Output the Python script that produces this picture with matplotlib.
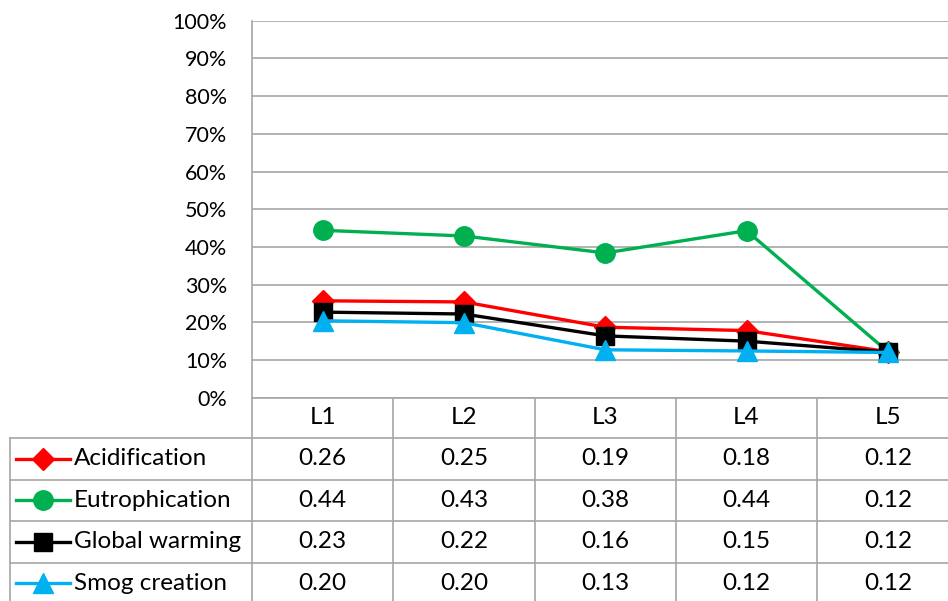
import matplotlib
matplotlib.use("Agg")
import matplotlib.pyplot as plt
from matplotlib.ticker import PercentFormatter, MultipleLocator

categories = ["L1", "L2", "L3", "L4", "L5"]
series_names = ["Acidification", "Eutrophication", "Global warming", "Smog creation"]
acidification = [0.257, 0.254, 0.187, 0.178, 0.122]
eutrophication = [0.444, 0.429, 0.384, 0.443, 0.122]
global_warming = [0.227, 0.222, 0.164, 0.150, 0.121]
smog_creation = [0.204, 0.199, 0.127, 0.124, 0.120]

series = [acidification, eutrophication, global_warming, smog_creation]
colors = ["#FF0000", "#00B050", "#000000", "#00B0F0"]
markers = ["D", "o", "s", "^"]
msizes = [11, 14, 13, 14]

W, H = 948, 601
plt.rcParams["font.family"] = ["Lato", "DejaVu Sans"]
fig = plt.figure(figsize=(W / 100, H / 100), dpi=100)

grid_col = "#A6A6A6"
x_left, col_w = 252, 141.3
x_right = x_left + col_w * len(categories)
y_top, y_zero = 20.7, 397.7
row_edges = [397.7, 438.0, 479.5, 521.0, 562.5, 604.0]
tick_fs, table_fs = 15.5, 17.5

def fx(px):
    return px / W

def fy(py):
    return 1 - py / H

ax = fig.add_axes([fx(x_left), fy(y_zero), fx(x_right) - fx(x_left), fy(y_top) - fy(y_zero)])
ax.set_xlim(-0.5, len(categories) - 0.5)
ax.set_ylim(0, 1)
ax.yaxis.set_major_locator(MultipleLocator(0.1))
ax.yaxis.set_major_formatter(PercentFormatter(1.0, decimals=0))
ax.set_xticks([])
ax.tick_params(axis="y", length=0, pad=18, labelsize=tick_fs)
ax.grid(axis="y", color=grid_col, linewidth=1.2)
ax.set_axisbelow(True)
for s in ["top", "right", "bottom"]:
    ax.spines[s].set_visible(False)
ax.spines["left"].set_color(grid_col)
ax.spines["left"].set_linewidth(1.2)

xs = list(range(len(categories)))
for vals, c, m, ms in zip(series, colors, markers, msizes):
    ax.plot(xs, vals, color=c, linewidth=2.4, marker=m, markersize=ms,
            markerfacecolor=c, markeredgecolor=c, clip_on=False, zorder=3)

# data table below the plot
tab = fig.add_axes([fx(x_left), fy(row_edges[-1]), fx(x_right) - fx(x_left),
                    fy(row_edges[0]) - fy(row_edges[-1])])
tab.set_xlim(-0.5, len(categories) - 0.5)
tab.set_ylim(row_edges[-1], row_edges[0])
tab.axis("off")

def dx(px):
    return -0.5 + (px - x_left) / col_w

legend_left = dx(10)
lkw = dict(color=grid_col, linewidth=1.2, clip_on=False)
tab.plot([-0.5, len(categories) - 0.5], [row_edges[0]] * 2, **lkw)
for y in row_edges[1:-1]:
    tab.plot([legend_left, len(categories) - 0.5], [y, y], **lkw)
tab.plot([legend_left, legend_left], [row_edges[1], row_edges[-1]], **lkw)
for i in range(len(categories) + 1):
    tab.plot([i - 0.5, i - 0.5], [row_edges[0], row_edges[-1]], **lkw)

for i, cat in enumerate(categories):
    tab.text(i, (row_edges[0] + row_edges[1]) / 2, cat, ha="center", va="center", fontsize=table_fs)

for r, (name, vals, c, m, ms) in enumerate(zip(series_names, series, colors, markers, msizes)):
    yc = (row_edges[r + 1] + row_edges[r + 2]) / 2
    tab.plot([dx(16), dx(70)], [yc, yc], color=c, linewidth=2.4, clip_on=False)
    tab.plot([dx(43)], [yc], marker=m, markersize=ms, color=c, clip_on=False)
    tab.text(dx(74), yc, name, ha="left", va="center", fontsize=table_fs)
    for i, v in enumerate(vals):
        tab.text(i, yc, f"{v:.2f}", ha="center", va="center", fontsize=table_fs)

fig.savefig("out.png", dpi=100)
